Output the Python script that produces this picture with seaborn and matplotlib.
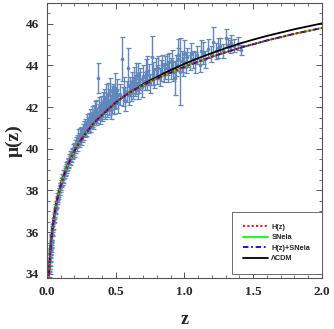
import numpy as np
import pandas as pd
import matplotlib
matplotlib.use("Agg")
import matplotlib.pyplot as plt
import seaborn as sns
from matplotlib.lines import Line2D
from matplotlib.ticker import MultipleLocator, FormatStrFormatter

# curvas teoricas
z_curva = [0.008, 0.01, 0.015, 0.02, 0.025, 0.03, 0.035, 0.04, 0.05, 0.06, 0.07, 0.08, 0.09,
           0.1, 0.12, 0.14, 0.16, 0.18, 0.2, 0.23, 0.26, 0.3, 0.33, 0.36, 0.4, 0.45, 0.5,
           0.55, 0.6, 0.65, 0.7, 0.75, 0.8, 0.85, 0.9, 0.95, 1.0, 1.1, 1.2, 1.3, 1.4,
           1.5, 1.6, 1.7, 1.8, 1.9, 2.0]
mu_lcdm = [32.7, 33.2, 34.1, 34.7, 35.2, 35.6, 35.9, 36.2, 36.7, 37.1, 37.45, 37.75, 38.0,
           38.25, 38.67, 39.03, 39.35, 39.63, 39.9, 40.25, 40.55, 40.9, 41.15, 41.37, 41.62, 41.93, 42.22,
           42.47, 42.7, 42.9, 43.1, 43.28, 43.45, 43.62, 43.78, 43.93, 44.08, 44.35, 44.6, 44.83, 45.05,
           45.24, 45.42, 45.58, 45.74, 45.88, 46.02]
mu_hz = [32.7, 33.2, 34.1, 34.7, 35.2, 35.6, 35.9, 36.2, 36.7, 37.1, 37.45, 37.75, 38.0,
         38.25, 38.67, 39.03, 39.35, 39.63, 39.9, 40.25, 40.55, 40.9, 41.15, 41.37, 41.62, 41.93, 42.22,
         42.47, 42.69, 42.88, 43.06, 43.22, 43.38, 43.52, 43.66, 43.8, 43.93, 44.18, 44.42, 44.63, 44.84,
         45.02, 45.2, 45.36, 45.52, 45.66, 45.8]
mu_sn = mu_hz
mu_hz_sn = mu_hz

# dados observacionais (modulo de distancia)
z_obs = [0.015, 0.016, 0.017, 0.018, 0.019, 0.020, 0.021, 0.022, 0.023, 0.024, 0.025, 0.026, 0.027, 0.028,
         0.030, 0.031, 0.032, 0.034, 0.036, 0.038, 0.040, 0.042, 0.045, 0.048, 0.050, 0.053, 0.056, 0.058,
         0.061, 0.064, 0.067, 0.070, 0.073, 0.076, 0.079, 0.082, 0.085, 0.088, 0.091, 0.094, 0.097, 0.100,
         0.104, 0.108, 0.112, 0.116, 0.120, 0.124, 0.128, 0.132, 0.136, 0.140, 0.145, 0.150, 0.155, 0.160,
         0.165, 0.170, 0.175, 0.180, 0.185, 0.190, 0.195, 0.200, 0.205, 0.210, 0.215, 0.220, 0.225, 0.230,
         0.235, 0.240, 0.245, 0.250, 0.255, 0.260, 0.265, 0.270, 0.275, 0.280, 0.285, 0.290, 0.295, 0.300,
         0.305, 0.310, 0.315, 0.320, 0.325, 0.330, 0.335, 0.340, 0.345, 0.350, 0.355, 0.360, 0.365, 0.368,
         0.375, 0.380, 0.385, 0.390, 0.395, 0.400, 0.405, 0.410, 0.415, 0.420, 0.425, 0.430, 0.435, 0.440,
         0.445, 0.450, 0.455, 0.460, 0.465, 0.470, 0.475, 0.480, 0.485, 0.490, 0.494, 0.500, 0.510, 0.520,
         0.530, 0.543, 0.550, 0.560, 0.570, 0.580, 0.587, 0.600,
         0.605, 0.610, 0.620, 0.625, 0.630, 0.640, 0.645, 0.650, 0.660, 0.665, 0.670, 0.680, 0.690, 0.700,
         0.710, 0.720, 0.725, 0.730, 0.740, 0.750, 0.761, 0.770, 0.780, 0.790, 0.800, 0.810, 0.820, 0.830,
         0.840, 0.850, 0.858, 0.870, 0.880, 0.890, 0.900, 0.910, 0.920, 0.930, 0.940, 0.950, 0.955, 0.967,
         0.980, 0.990,
         1.000, 1.010, 1.020, 1.040, 1.050, 1.060, 1.076, 1.090, 1.110, 1.120, 1.137, 1.150, 1.170, 1.190,
         1.210, 1.230, 1.246, 1.260, 1.280, 1.300, 1.315, 1.330, 1.340, 1.360, 1.390, 1.414]
mu_obs = [34.05, 34.25, 34.35, 34.4, 34.6, 34.75, 34.8, 34.95, 35.05, 35.1, 35.25, 35.2, 35.45, 35.4,
          35.65, 35.7, 35.75, 35.95, 36.0, 36.15, 36.25, 36.3, 36.55, 36.6, 36.75, 36.85, 37.05, 37.0,
          37.2, 37.3, 37.35, 37.5, 37.6, 37.7, 37.75, 37.85, 37.95, 37.95, 38.1, 38.2, 38.2, 38.35,
          38.4, 38.45, 38.6, 38.55, 38.75, 38.8, 38.95, 38.9, 39.05, 39.15, 39.2, 39.35, 39.3, 39.5,
          39.45, 39.65, 39.6, 39.8, 39.75, 39.95, 39.85, 40.05, 40.1, 40.3, 40.15, 40.4, 40.6, 40.35,
          40.5, 40.7, 40.45, 40.75, 40.6, 40.9, 40.7, 41.0, 40.85, 41.1, 40.9, 41.25, 41.05, 41.2,
          41.35, 41.1, 41.5, 41.3, 41.6, 41.4, 41.25, 41.7, 41.5, 41.8, 41.45, 41.9, 41.6, 43.4,
          41.75, 42.0, 41.55, 42.1, 41.85, 41.7, 42.2, 41.95, 42.35, 41.8, 42.1, 42.5, 41.9, 42.25,
          42.6, 42.0, 42.8, 42.3, 41.85, 42.5, 42.15, 42.6, 42.35, 42.05, 42.9, 42.4, 42.8, 42.2,
          42.6, 44.3, 42.5, 42.9, 42.3, 42.75, 43.9, 42.6,
          43.0, 42.7, 43.2, 42.85, 43.4, 42.95, 43.5, 43.1, 42.8, 43.6, 43.2, 43.35, 42.95, 43.5,
          43.25, 43.7, 43.75, 43.3, 43.55, 43.15, 44.4, 43.6, 43.4, 43.85, 43.55, 43.9, 43.45, 43.75,
          44.0, 43.65, 43.9, 44.05, 43.7, 44.15, 43.85, 44.2, 43.7, 43.4, 44.0, 44.3, 44.5, 43.7,
          44.2, 43.95,
          44.55, 44.15, 44.4, 44.15, 44.6, 44.3, 44.15, 44.5, 44.0, 44.7, 44.6, 44.3, 44.8, 44.55,
          45.14, 44.7, 44.85, 44.95, 44.7, 45.3, 45.0, 44.9, 45.1, 44.95, 45.05, 44.75]
mu_err = [0.2, 0.18, 0.2, 0.17, 0.2, 0.16, 0.17, 0.18, 0.15, 0.16, 0.15, 0.16, 0.15, 0.14,
          0.15, 0.14, 0.15, 0.14, 0.13, 0.14, 0.13, 0.14, 0.13, 0.13, 0.12, 0.13, 0.12, 0.13,
          0.14, 0.15, 0.14, 0.15, 0.14, 0.16, 0.15, 0.16, 0.15, 0.16, 0.17, 0.16, 0.18, 0.17,
          0.18, 0.2, 0.19, 0.2, 0.21, 0.2, 0.22, 0.2, 0.21, 0.22, 0.23, 0.2, 0.22, 0.24,
          0.22, 0.25, 0.22, 0.24, 0.23, 0.26, 0.24, 0.25, 0.3, 0.27, 0.25, 0.28, 0.35, 0.26,
          0.28, 0.3, 0.27, 0.32, 0.28, 0.3, 0.29, 0.35, 0.3, 0.32, 0.3, 0.4, 0.3, 0.33,
          0.35, 0.3, 0.4, 0.32, 0.45, 0.35, 0.3, 0.4, 0.35, 0.5, 0.33, 0.45, 0.35, 0.7,
          0.38, 0.5, 0.35, 0.45, 0.4, 0.35, 0.55, 0.4, 0.5, 0.38, 0.42, 0.6, 0.35, 0.45,
          0.55, 0.4, 0.6, 0.45, 0.4, 0.5, 0.42, 0.5, 0.45, 0.4, 0.75, 0.45, 0.55, 0.5,
          0.5, 1.05, 0.45, 0.55, 0.5, 0.5, 0.95, 0.5,
          0.45, 0.4, 0.5, 0.45, 0.55, 0.4, 0.6, 0.45, 0.4, 0.5, 0.5, 0.55, 0.45, 0.5,
          0.45, 0.6, 0.7, 0.5, 0.5, 0.45, 1.0, 0.55, 0.5, 0.5, 0.45, 0.55, 0.45, 0.5,
          0.5, 0.45, 0.55, 0.5, 0.5, 0.45, 0.5, 0.55, 0.45, 0.8, 0.5, 0.55, 0.75, 1.6,
          0.5, 0.45,
          0.67, 0.5, 0.45, 0.37, 0.5, 0.4, 0.52, 0.45, 0.3, 0.5, 0.53, 0.4, 0.45, 0.4,
          0.7, 0.4, 0.48, 0.35, 0.35, 0.43, 0.3, 0.3, 0.35, 0.3, 0.3, 0.25]

df_obs = pd.DataFrame({"z": z_obs, "mu": mu_obs, "err": mu_err})
df_curva = pd.DataFrame({"z": z_curva, "lcdm": mu_lcdm, "hz": mu_hz, "sn": mu_sn, "hzsn": mu_hz_sn})

sns.set_style("ticks")
plt.rcParams["font.family"] = ["Liberation Serif", "DejaVu Serif"]

cor_dados = "#6287BC"

fig = plt.figure(figsize=(3.34, 3.29), dpi=100)
ax = fig.add_axes([0.1407, 0.155, 0.8233, 0.836])

# barras de erro dos dados
ax.errorbar(df_obs["z"], df_obs["mu"], yerr=df_obs["err"], fmt="o", ms=1.6,
            color=cor_dados, ecolor=cor_dados, elinewidth=1.0, capsize=1.8, capthick=0.9, zorder=2)

# curvas dos modelos
sns.lineplot(data=df_curva, x="z", y="lcdm", color="black", lw=1.3, ax=ax, zorder=3)
sns.lineplot(data=df_curva, x="z", y="sn", color="#00FF00", lw=1.3, ax=ax, zorder=4)
sns.lineplot(data=df_curva, x="z", y="hzsn", color="#0000FF", lw=1.3, ax=ax, zorder=5,
             linestyle=(0, (3, 1.5, 1, 1.5)))
sns.lineplot(data=df_curva, x="z", y="hz", color="#FF0000", lw=1.3, ax=ax, zorder=6,
             linestyle=(0, (1.2, 1.2)))

ax.set_xlim(0, 2.0)
ax.set_ylim(33.8, 47.0)
ax.xaxis.set_major_locator(MultipleLocator(0.5))
ax.xaxis.set_minor_locator(MultipleLocator(0.1))
ax.xaxis.set_major_formatter(FormatStrFormatter("%.1f"))
ax.yaxis.set_major_locator(MultipleLocator(2))
ax.yaxis.set_minor_locator(MultipleLocator(0.5))
ax.tick_params(which="both", direction="in", top=True, right=True, color="#555555")
ax.tick_params(which="major", length=4, width=0.7, pad=6, labelsize=9.5)
ax.tick_params(which="minor", length=2, width=0.6)
for lab in ax.get_xticklabels() + ax.get_yticklabels():
    lab.set_fontweight("bold")
for s in ax.spines.values():
    s.set_color("#555555")
    s.set_linewidth(0.8)

ax.set_xlabel("z", fontsize=13, fontweight="bold", labelpad=9)
ax.set_ylabel("μ(z)", fontsize=14, fontweight="bold", labelpad=2)

handles = [Line2D([], [], color="#FF0000", lw=1.3, linestyle=(0, (1.2, 1.2))),
           Line2D([], [], color="#00FF00", lw=1.3),
           Line2D([], [], color="#0000FF", lw=1.3, linestyle=(0, (3, 1.5, 1, 1.5))),
           Line2D([], [], color="black", lw=1.3)]
nomes = ["H(z)", "SNeIa", "H(z)+SNeIa", "ΛCDM"]
leg = ax.legend(handles, nomes, loc="lower right", bbox_to_anchor=(1.0, 0.015),
                borderaxespad=0, fancybox=False, framealpha=1, edgecolor="#555555",
                prop={"family": "Liberation Sans", "weight": "bold", "size": 5.3},
                handlelength=3.4, handletextpad=0.4, labelspacing=0.45, borderpad=1.6)
leg.get_frame().set_linewidth(0.6)

fig.savefig("out.png", dpi=100)
